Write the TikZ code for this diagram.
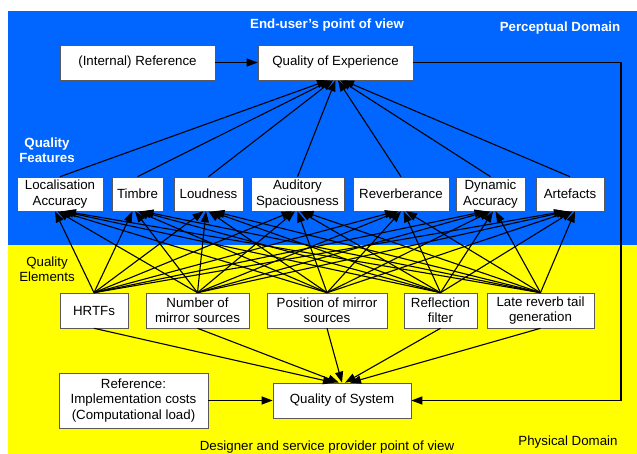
\documentclass[tikz,border=0pt]{standalone}
\usepackage{fontspec}
\setmainfont{Liberation Sans}
\usetikzlibrary{arrows.meta,calc}
\definecolor{bgblue}{RGB}{0,102,255}
\definecolor{bgyellow}{RGB}{255,255,0}
\begin{document}
\begin{tikzpicture}[x=1pt,y=-1pt,
  box/.style={draw=black!65, line width=0.6pt, fill=white, inner sep=0pt, align=center, font=\fontsize{13.3}{15.3}\selectfont},
  conn/.style={line width=1.1pt, -{Triangle[length=11pt,width=8pt]}},
  lbl/.style={font=\fontsize{13.3}{15.3}\selectfont, align=center, inner sep=0pt},
  blbl/.style={font=\fontsize{13.3}{15.3}\selectfont\bfseries, align=center, inner sep=0pt, text=white},
]
\useasboundingbox (0,0) rectangle (637,454);
\fill[bgblue] (8,11) rectangle (637,245);
\fill[bgyellow] (8,245) rectangle (637,454);

% labels
\node[blbl] (enduser) at (327,25) {End-user’s point of view};
\node[blbl] (percdom) at (560,28) {Perceptual Domain};
\node[blbl] (qfeat) at (47,150.5) {Quality\\Features};
\node[lbl] (qelem) at (47,269.5) {Quality\\Elements};
\node[lbl] (designer) at (327,447) {Designer and service provider point of view};
\node[lbl] (physdom) at (568,442) {Physical Domain};

% top row
\node[box, minimum width=155pt, minimum height=35pt] (iref) at (137.5,62.5) {(Internal) Reference};
\node[box, minimum width=155pt, minimum height=35pt] (qoe) at (335.5,62.5) {Quality of Experience};

% quality features
\node[box, minimum width=86pt, minimum height=34pt] (loc) at (60,194) {Localisation\\Accuracy};
\node[box, minimum width=51pt, minimum height=34pt] (tim) at (137.5,194) {Timbre};
\node[box, minimum width=69pt, minimum height=34pt] (lou) at (208.5,194) {Loudness};
\node[box, minimum width=93pt, minimum height=34pt] (aud) at (297.5,194) {Auditory\\Spaciousness};
\node[box, minimum width=96pt, minimum height=34pt] (rev) at (401,194) {Reverberance};
\node[box, minimum width=69pt, minimum height=34pt] (dyn) at (490.5,194) {Dynamic\\Accuracy};
\node[box, minimum width=68pt, minimum height=34pt] (art) at (570,194) {Artefacts};

% quality elements
\node[box, minimum width=68pt, minimum height=35pt] (hrtf) at (94,310.5) {HRTFs};
\node[box, minimum width=103pt, minimum height=35pt] (num) at (197.5,310.5) {Number of\\mirror sources};
\node[box, minimum width=120pt, minimum height=35pt] (pos) at (327,310.5) {Position of mirror\\sources};
\node[box, minimum width=73pt, minimum height=35pt] (refl) at (440.5,310.5) {Reflection\\filter};
\node[box, minimum width=107pt, minimum height=35pt] (late) at (540.5,310.5) {Late reverb tail\\generation};

% bottom row
\node[box, minimum width=149pt, minimum height=55pt] (ref2) at (133.5,400.5) {Reference:\\Implementation costs\\(Computational load)};
\node[box, minimum width=138pt, minimum height=35pt] (qos) at (342,400.5) {Quality of System};

% connectors
\draw[conn] (iref) -- (qoe);
\draw[conn] (ref2.east |- qos.west) -- (qos.west);

\foreach \f [count=\k] in {loc,tim,lou,aud,rev,dyn,art}
  \draw[conn] (\f.north) -- ($(qoe.south)+({(\k-4)*2.5},0)$);

\foreach \e [count=\j] in {hrtf,num,pos,refl,late}
  \foreach \f in {loc,tim,lou,aud,rev,dyn,art}
    \draw[conn] (\e.north) -- ($(\f.south)+({(\j-3)*2.5},0)$);

\foreach \e/\o in {hrtf/-8,num/-3,pos/0,refl/3,late/8}
  \draw[conn] (\e.south) -- ($(qos.north)+(\o,0)$);

\coordinate (corner) at (621,62.5);
\draw[conn] (qoe.east) -- (corner) |- (qos.east);
\end{tikzpicture}
\end{document}
